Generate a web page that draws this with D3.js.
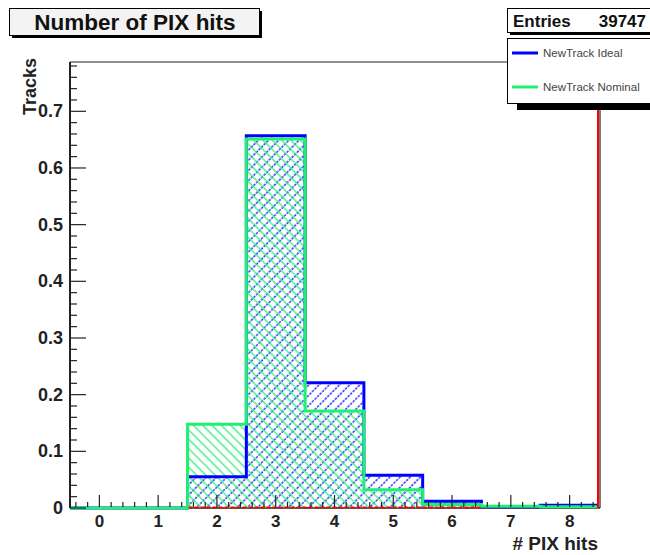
<!DOCTYPE html>
<html>
<head>
<meta charset="utf-8">
<script src="https://cdn.jsdelivr.net/npm/d3@7"></script>
<style>
  body { margin: 0; background: #fff; }
  text { font-family: "Liberation Sans", Arial, Helvetica, sans-serif; }
</style>
</head>
<body>
<svg id="chart" width="650" height="555"></svg>
<script>
// histogram bins (# PIX hits), one value per bin
const bins = [0, 1, 2, 3, 4, 5, 6, 7, 8];
const idealValues = [0, 0, 0.055, 0.657, 0.221, 0.058, 0.012, 0.002, 0.005];
const nominalValues = [0, 0, 0.148, 0.651, 0.171, 0.032, 0.006, 0.003, 0.002];

const xTicks = [0, 1, 2, 3, 4, 5, 6, 7, 8];
const yTicks = [0, 0.1, 0.2, 0.3, 0.4, 0.5, 0.6, 0.7];
const yTickLabels = ["0", "0.1", "0.2", "0.3", "0.4", "0.5", "0.6", "0.7"];

const titleText = "Number of PIX hits";
const entries = 39747;
const legendNames = ["NewTrack Ideal", "NewTrack Nominal"];

const blue = "#0000ff";
const green = "#1ef072";

const svg = d3.select("#chart");
const padL = 70, padR = 599, padT = 62, padB = 508;

const x = d3.scaleLinear().domain([-0.5, 8.5]).range([padL, padR]);
const y = d3.scaleLinear().domain([0, 0.787]).range([padB, padT]);
const axisColor = "#222";

// hatch patterns
const defs = svg.append("defs");
const hatch = (id, color, angle, size, dash) => {
  const p = defs.append("pattern")
    .attr("id", id)
    .attr("patternUnits", "userSpaceOnUse")
    .attr("width", size).attr("height", size)
    .attr("patternTransform", `rotate(${angle})`);
  p.append("line")
    .attr("x1", 1).attr("y1", 0).attr("x2", 1).attr("y2", size)
    .attr("stroke", color).attr("stroke-width", 1.2)
    .attr("stroke-dasharray", dash);
};
hatch("hatchBlue", blue, 45, 7.2, "2.4,1.2");
hatch("hatchGreen", green, -45, 6.6, null);

// x axis baseline under the histograms
svg.append("line").attr("x1", padL).attr("x2", padR + 1)
  .attr("y1", padB).attr("y2", padB).attr("stroke", axisColor).attr("stroke-width", 1.5);

// step data: bin edges with values
const stepData = vals => {
  const pts = bins.map((b, i) => [b - 0.5, vals[i]]);
  pts.push([bins[bins.length - 1] + 0.5, vals[vals.length - 1]]);
  return pts;
};

const area = d3.area()
  .x(d => x(d[0])).y0(y(0)).y1(d => y(d[1]))
  .curve(d3.curveStepAfter);
const line = d3.line()
  .x(d => x(d[0])).y(d => y(d[1]))
  .curve(d3.curveStepAfter);

svg.append("path").datum(stepData(idealValues))
  .attr("d", area).attr("fill", "url(#hatchBlue)");
svg.append("path").datum(stepData(nominalValues))
  .attr("d", area).attr("fill", "url(#hatchGreen)");

svg.append("path").datum(stepData(idealValues))
  .attr("d", line).attr("fill", "none")
  .attr("stroke", blue).attr("stroke-width", 3);
svg.append("path").datum(stepData(nominalValues))
  .attr("d", line).attr("fill", "none")
  .attr("stroke", green).attr("stroke-width", 3);

// red baseline and right edge
svg.append("line")
  .attr("x1", x(1.5) + 1).attr("x2", x(6.5))
  .attr("y1", y(0) - 0.5).attr("y2", y(0) - 0.5)
  .attr("stroke", "red").attr("stroke-width", 2)
  .attr("stroke-dasharray", "4,2");
svg.append("line")
  .attr("x1", padR - 1).attr("x2", padR - 1)
  .attr("y1", y(0)).attr("y2", padT)
  .attr("stroke", "red").attr("stroke-width", 2);

// frame
svg.append("line").attr("x1", padL).attr("x2", padR + 1)
  .attr("y1", padT).attr("y2", padT).attr("stroke", axisColor).attr("stroke-width", 1);
svg.append("line").attr("x1", padR + 1).attr("x2", padR + 1)
  .attr("y1", padT).attr("y2", padB).attr("stroke", axisColor).attr("stroke-width", 1.2);

// x axis ticks
const gx = svg.append("g");
const xMinor = d3.range(-0.4, 8.5, 0.2).filter(v => Math.abs(v - Math.round(v)) > 0.05);
gx.selectAll(".xminor").data(xMinor).join("line")
  .attr("x1", d => x(d)).attr("x2", d => x(d))
  .attr("y1", padB - 1).attr("y2", padB - 6)
  .attr("stroke", axisColor).attr("stroke-width", 1.2);
gx.selectAll(".xmajor").data(xTicks).join("line")
  .attr("x1", d => x(d)).attr("x2", d => x(d))
  .attr("y1", padB - 1).attr("y2", padB - 13)
  .attr("stroke", axisColor).attr("stroke-width", 1.2);
gx.selectAll("text").data(xTicks).join("text")
  .attr("x", d => x(d)).attr("y", 527)
  .attr("text-anchor", "middle")
  .attr("font-size", 17).attr("font-weight", "bold").attr("fill", "#222")
  .text(d => d);

// y axis
const gy = svg.append("g");
gy.append("line").attr("x1", padL).attr("x2", padL)
  .attr("y1", padT).attr("y2", padB).attr("stroke", axisColor).attr("stroke-width", 2);
const yMinor = d3.range(0.02, 0.787, 0.02).filter(v => Math.abs(v * 10 - Math.round(v * 10)) > 0.05);
gy.selectAll(".yminor").data(yMinor).join("line")
  .attr("x1", padL).attr("x2", padL + 7)
  .attr("y1", d => y(d)).attr("y2", d => y(d))
  .attr("stroke", axisColor).attr("stroke-width", 1.2);
gy.selectAll(".ymajor").data(yTicks).join("line")
  .attr("x1", padL).attr("x2", padL + 16)
  .attr("y1", d => y(d)).attr("y2", d => y(d))
  .attr("stroke", axisColor).attr("stroke-width", 1.2);
gy.selectAll("text").data(yTicks).join("text")
  .attr("x", 63).attr("y", d => y(d) + 6)
  .attr("text-anchor", "end")
  .attr("font-size", 18).attr("font-weight", "bold").attr("fill", "#222")
  .text((d, i) => yTickLabels[i]);

// axis titles
svg.append("text")
  .attr("x", 598).attr("y", 550)
  .attr("text-anchor", "end")
  .attr("font-size", 19).attr("font-weight", "bold").attr("fill", "#222")
  .text("# PIX hits");
svg.append("text")
  .attr("transform", "translate(36,58) rotate(-90)")
  .attr("text-anchor", "end")
  .attr("font-size", 18).attr("font-weight", "bold").attr("fill", "#222")
  .text("Tracks");

// title box
svg.append("rect").attr("x", 12).attr("y", 11).attr("width", 250).attr("height", 27).attr("fill", "#000");
svg.append("rect").attr("x", 9.5).attr("y", 8.5).attr("width", 250).attr("height", 27)
  .attr("fill", "#f3f3f3").attr("stroke", "#000").attr("stroke-width", 1);
svg.append("text")
  .attr("x", 135).attr("y", 30)
  .attr("text-anchor", "middle")
  .attr("font-size", 22.5).attr("font-weight", "bold").attr("fill", "#111")
  .text(titleText);

// stats box
svg.append("rect").attr("x", 510).attr("y", 11).attr("width", 150).attr("height", 24).attr("fill", "#000");
svg.append("rect").attr("x", 507.5).attr("y", 8.5).attr("width", 150).attr("height", 24)
  .attr("fill", "#fff").attr("stroke", "#000").attr("stroke-width", 1);
svg.append("text").attr("x", 513).attr("y", 27)
  .attr("font-size", 17).attr("font-weight", "bold").attr("fill", "#111")
  .text("Entries");
svg.append("text").attr("x", 646).attr("y", 27)
  .attr("text-anchor", "end")
  .attr("font-size", 17).attr("font-weight", "bold").attr("fill", "#111")
  .text(entries);

// legend box
svg.append("rect").attr("x", 517).attr("y", 45).attr("width", 150).attr("height", 65).attr("fill", "#000");
svg.append("rect").attr("x", 507.5).attr("y", 38.5).attr("width", 150).attr("height", 65)
  .attr("fill", "#fff").attr("stroke", "#000").attr("stroke-width", 1);
const legend = svg.append("g");
const legendRows = [{ name: legendNames[0], color: blue, y: 53 }, { name: legendNames[1], color: green, y: 87 }];
legend.selectAll("line").data(legendRows).join("line")
  .attr("x1", 512).attr("x2", 538)
  .attr("y1", d => d.y).attr("y2", d => d.y)
  .attr("stroke", d => d.color).attr("stroke-width", 3);
legend.selectAll("text").data(legendRows).join("text")
  .attr("x", 543).attr("y", d => d.y + 4)
  .attr("font-size", 11.5).attr("fill", "#444")
  .text(d => d.name);
</script>
</body>
</html>
